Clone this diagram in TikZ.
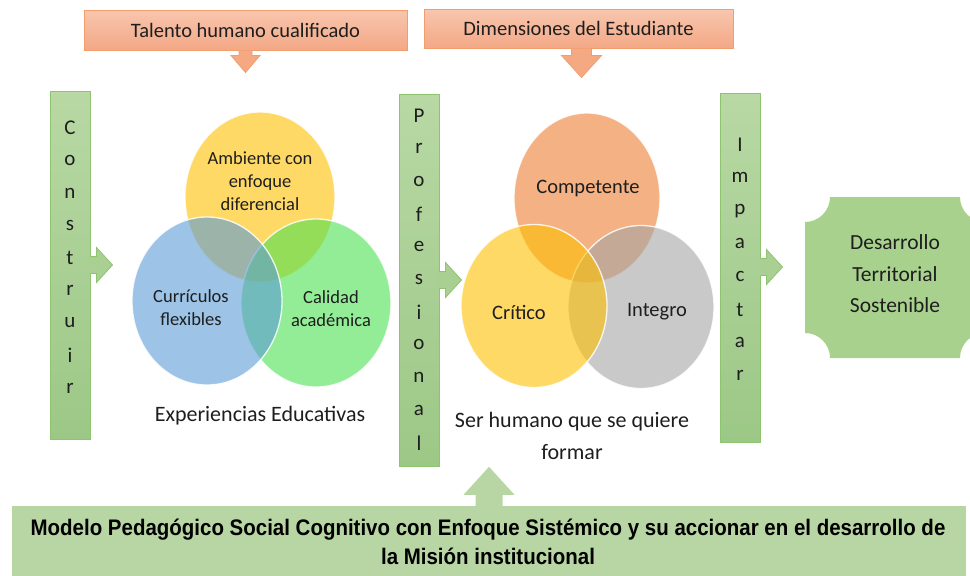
\documentclass[tikz,border=0pt]{standalone}
\usepackage{fontspec}
\setmainfont{Carlito}
\newfontfamily\narrowfont[FakeStretch=0.91]{Liberation Sans}
\usetikzlibrary{shapes.geometric,calc}
\definecolor{salmonT}{HTML}{F8C6AE}
\definecolor{salmonB}{HTML}{F3A886}
\definecolor{salmonD}{HTML}{F29E6C}
\definecolor{salmonA}{HTML}{F5A983}
\definecolor{barT}{HTML}{B8D8A4}
\definecolor{barB}{HTML}{9CC886}
\definecolor{barM}{HTML}{A9D092}
\definecolor{barD}{HTML}{8EC46F}
\definecolor{plaqueC}{HTML}{A9D18E}
\definecolor{baseC}{HTML}{B8D6A4}
\definecolor{vBlue}{HTML}{5B9BD5}
\definecolor{vYel}{HTML}{FFC000}
\definecolor{vGreen}{RGB}{75,225,80}
\definecolor{vOrange}{HTML}{ED7D31}
\definecolor{vGray}{HTML}{A5A5A5}
\definecolor{txt}{HTML}{1E1E1E}
\tikzset{
  topbox/.style={draw=salmonD, line width=1pt, top color=salmonT, bottom color=salmonB,
    inner sep=0pt, text=txt, font=\fontsize{20.5}{24}\selectfont},
  orArrow/.style={draw=salmonD, fill=salmonA, line width=0.8pt, line join=miter},
  greenbar/.style={draw=barD, line width=1pt, top color=barT, bottom color=barB,
    inner sep=0pt, minimum width=40pt},
  barletter/.style={inner sep=0pt, text=txt, font=\fontsize{21}{24}\selectfont},
  barArrowFill/.style={fill=barM},
  barArrowLine/.style={draw=barD, line width=0.8pt},
  venn/.style={ellipse, inner sep=0pt, fill opacity=0.6, draw=white, draw opacity=0.85, line width=1.3pt},
  vlabelA/.style={align=center, inner sep=0pt, text=txt, font=\fontsize{18.5}{23}\selectfont},
  vlabelB/.style={align=center, inner sep=0pt, text=txt, font=\fontsize{20.5}{24}\selectfont},
  caption/.style={align=center, inner sep=0pt, text=txt, font=\fontsize{22}{32}\selectfont},
  basebox/.style={fill=baseC, inner sep=0pt},
  basetext/.style={align=center, inner sep=0pt, text=black, font=\narrowfont\bfseries\fontsize{22.5}{28.5}\selectfont}
}
\begin{document}
\begin{tikzpicture}[x=1pt,y=-1pt]
\useasboundingbox (0,0) rectangle (970,576);
\clip (0,0) rectangle (970,576);

% ---------- top boxes ----------
\node[topbox, minimum width=323pt, minimum height=40pt] (tb1) at (245.5,30) {Talento humano cualificado};
\node[topbox, minimum width=309pt, minimum height=39pt] (tb2) at (578.5,28.5) {Dimensiones del Estudiante};
\draw[orArrow] ($(tb1.south)+(-6.5,0)$) -- ++(0,5) -- ++(-8,0) -- ++(14.5,17) -- ++(14.5,-17) -- ++(-8,0) -- ++(0,-5);
\draw[orArrow] ($(tb2.south)+(-7,0)$) -- ++(0,7) -- ++(-10,0) -- ++(20,22) -- ++(20,-22) -- ++(-10,0) -- ++(0,-7);

% ---------- green bars ----------
\node[greenbar, minimum height=348pt] (bar1) at (70,265) {};
\node[greenbar, minimum height=372pt] (bar2) at (419,280) {};
\node[greenbar, minimum height=349pt] (bar3) at (740,267.5) {};

\foreach \ch [count=\i] in {C,o,n,s,t,r,u,i,r}
  \node[barletter] (cons\i) at (70,{128+(\i-1)*32.5}) {\ch};
\foreach \ch [count=\i] in {P,r,o,f,e,s,i,o,n,a,l}
  \node[barletter] (prof\i) at (419,{116+(\i-1)*32.7}) {\ch};
\foreach \ch [count=\i] in {I,m,p,a,c,t,a,r}
  \node[barletter] (imp\i) at (740,{145+(\i-1)*32.9}) {\ch};

% bar arrows
\foreach \b/\dy in {bar1/0, bar2/0, bar3/-0.5}{
  \fill[barArrowFill] ($(\b.east)+(-1.5,{\dy-8.5})$) -- ++(7.5,0) -- ++(0,-9) -- ++(16,17.5) -- ++(-16,17.5) -- ++(0,-9) -- ++(-7.5,0) -- cycle;
  \draw[barArrowLine] ($(\b.east)+(0,{\dy-8.5})$) -- ++(6,0) -- ++(0,-9) -- ++(16,17.5) -- ++(-16,17.5) -- ++(0,-9) -- ++(-6,0);
}

% ---------- Venn 1 ----------
\node[venn, fill=vYel, minimum width=150pt, minimum height=170pt] (vAmb) at (260,197) {};
\node[venn, fill=vGreen, minimum width=150pt, minimum height=168pt] (vCal) at (316,303) {};
\node[venn, fill=vBlue, minimum width=150pt, minimum height=168pt] (vCur) at (207,301) {};
\node[vlabelA] (lAmb) at (260,181) {Ambiente con\\enfoque\\diferencial};
\node[vlabelA] (lCur) at (191,308) {Currículos\\flexibles};
\node[vlabelA] (lCal) at (331,309) {Calidad\\académica};
\node[caption] (cap1) at (260,416) {Experiencias Educativas};

% ---------- Venn 2 ----------
\node[venn, fill=vOrange, minimum width=146pt, minimum height=170pt] (vCom) at (587,198) {};
\node[venn, fill=vGray, minimum width=146pt, minimum height=163pt] (vInt) at (641,307) {};
\node[venn, fill=vYel, minimum width=146pt, minimum height=163pt] (vCri) at (534,306) {};
\node[vlabelB] (lCom) at (588,188) {Competente};
\node[vlabelB] (lCri) at (519,312) {Crítico};
\node[vlabelB] (lInt) at (657,312) {Integro};
\node[caption] (cap2) at (572,436) {Ser humano que se quiere\\formar};

% ---------- plaque ----------
\fill[plaqueC] (830,197) -- (960,197) arc[start angle=180, end angle=270, radius=25pt]
  -- (985,333) arc[start angle=90, end angle=180, radius=25pt]
  -- (830,358) arc[start angle=0, end angle=90, radius=25pt]
  -- (805,222) arc[start angle=270, end angle=360, radius=25pt] -- cycle;
\node[align=center, inner sep=0pt, text=txt, font=\fontsize{21.5}{31.5}\selectfont] (dts) at (895,274) {Desarrollo\\Territorial\\Sostenible};

% ---------- bottom box ----------
\node[basebox, minimum width=954pt, minimum height=72pt] (base) at (489,542) {};
\node[basetext] (baseT) at (488,542) {Modelo Pedagógico Social Cognitivo con Enfoque Sistémico y su accionar en el desarrollo de\\la Misión institucional};
\fill[baseC] ($(base.north)+(-13.5,0.5)$) -- ++(0,-11.5) -- ++(-12,0) -- ++(25.5,-28) -- ++(25.5,28) -- ++(-12,0) -- ++(0,11.5) -- cycle;
\end{tikzpicture}
\end{document}
